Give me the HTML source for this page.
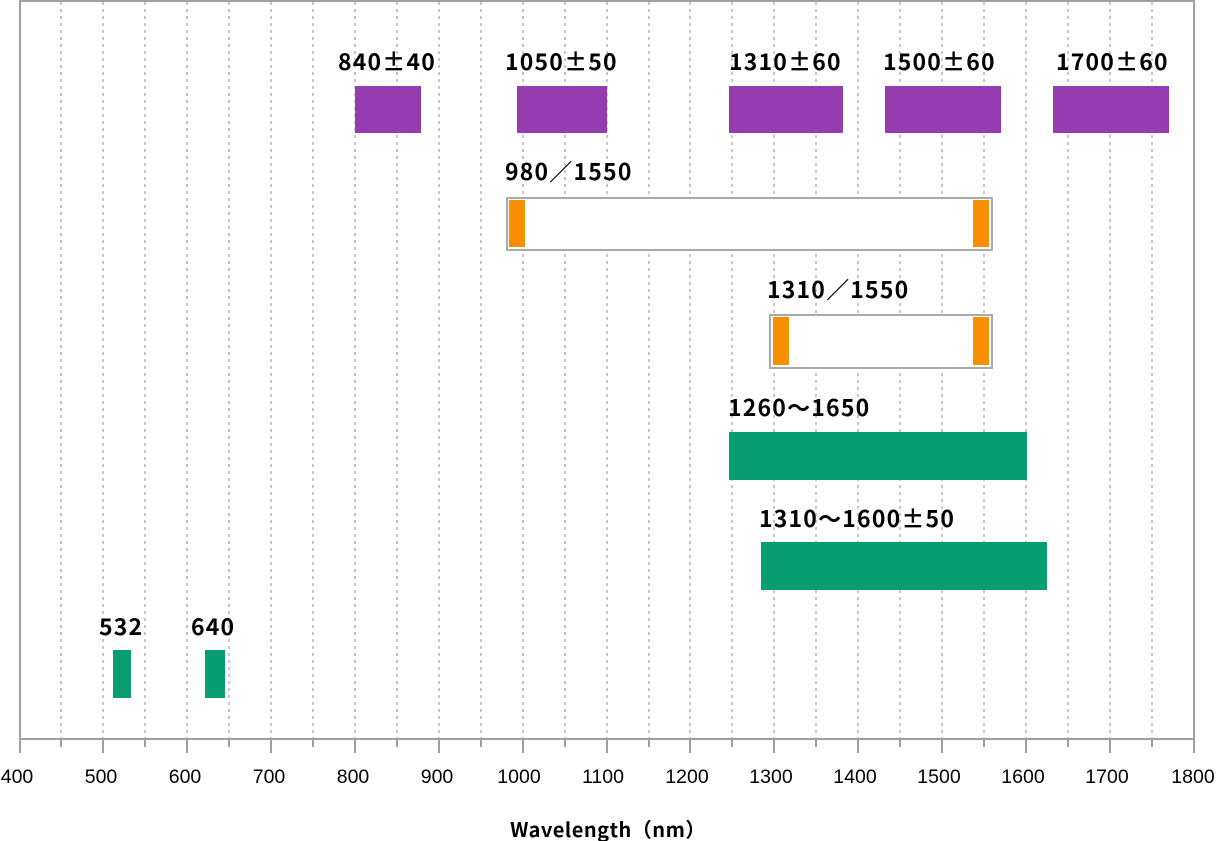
<!DOCTYPE html>
<html><head><meta charset="utf-8"><style>
html,body{margin:0;padding:0;background:#fff;}
svg{display:block;}
.l{font-family:"Noto Sans CJK JP",sans-serif;font-size:23px;font-weight:bold;fill:#000;letter-spacing:1.2px;}
.t{font-family:"Liberation Sans",sans-serif;font-size:19.5px;fill:#000;}
</style></head><body>
<svg width="1216" height="841" viewBox="0 0 1216 841">
<rect x="0" y="0" width="1216" height="841" fill="#fff"/>
<g stroke="#c8c8c8" stroke-width="2" stroke-dasharray="3,4">
<line x1="61" y1="2" x2="61" y2="739"/><line x1="103" y1="2" x2="103" y2="739"/><line x1="145" y1="2" x2="145" y2="739"/><line x1="187" y1="2" x2="187" y2="739"/><line x1="229" y1="2" x2="229" y2="739"/><line x1="271" y1="2" x2="271" y2="739"/><line x1="313" y1="2" x2="313" y2="739"/><line x1="355" y1="2" x2="355" y2="739"/><line x1="397" y1="2" x2="397" y2="739"/><line x1="439" y1="2" x2="439" y2="739"/><line x1="481" y1="2" x2="481" y2="739"/><line x1="523" y1="2" x2="523" y2="739"/><line x1="565" y1="2" x2="565" y2="739"/><line x1="607" y1="2" x2="607" y2="739"/><line x1="649" y1="2" x2="649" y2="739"/><line x1="690" y1="2" x2="690" y2="739"/><line x1="732" y1="2" x2="732" y2="739"/><line x1="774" y1="2" x2="774" y2="739"/><line x1="816" y1="2" x2="816" y2="739"/><line x1="858" y1="2" x2="858" y2="739"/><line x1="900" y1="2" x2="900" y2="739"/><line x1="942" y1="2" x2="942" y2="739"/><line x1="984" y1="2" x2="984" y2="739"/><line x1="1026" y1="2" x2="1026" y2="739"/><line x1="1068" y1="2" x2="1068" y2="739"/><line x1="1110" y1="2" x2="1110" y2="739"/><line x1="1152" y1="2" x2="1152" y2="739"/>
</g>
<g stroke="#a0a0a0" stroke-width="2" fill="none">
<polyline points="20,739 20,1 1194,1 1194,739"/>
<line x1="20" y1="739" x2="1194" y2="739"/>
</g>
<g stroke="#a0a0a0" stroke-width="2">
<line x1="20" y1="739" x2="20" y2="753"/><line x1="61" y1="739" x2="61" y2="747"/><line x1="103" y1="739" x2="103" y2="753"/><line x1="145" y1="739" x2="145" y2="747"/><line x1="187" y1="739" x2="187" y2="753"/><line x1="229" y1="739" x2="229" y2="747"/><line x1="271" y1="739" x2="271" y2="753"/><line x1="313" y1="739" x2="313" y2="747"/><line x1="355" y1="739" x2="355" y2="753"/><line x1="397" y1="739" x2="397" y2="747"/><line x1="439" y1="739" x2="439" y2="753"/><line x1="481" y1="739" x2="481" y2="747"/><line x1="523" y1="739" x2="523" y2="753"/><line x1="565" y1="739" x2="565" y2="747"/><line x1="607" y1="739" x2="607" y2="753"/><line x1="649" y1="739" x2="649" y2="747"/><line x1="690" y1="739" x2="690" y2="753"/><line x1="732" y1="739" x2="732" y2="747"/><line x1="774" y1="739" x2="774" y2="753"/><line x1="816" y1="739" x2="816" y2="747"/><line x1="858" y1="739" x2="858" y2="753"/><line x1="900" y1="739" x2="900" y2="747"/><line x1="942" y1="739" x2="942" y2="753"/><line x1="984" y1="739" x2="984" y2="747"/><line x1="1026" y1="739" x2="1026" y2="753"/><line x1="1068" y1="739" x2="1068" y2="747"/><line x1="1110" y1="739" x2="1110" y2="753"/><line x1="1152" y1="739" x2="1152" y2="747"/><line x1="1194" y1="739" x2="1194" y2="753"/>
</g>
<g text-anchor="middle">
<text x="17" y="783" class="t">400</text><text x="101" y="783" class="t">500</text><text x="185" y="783" class="t">600</text><text x="269" y="783" class="t">700</text><text x="353" y="783" class="t">800</text><text x="437" y="783" class="t">900</text><text x="519" y="783" class="t">1000</text><text x="603" y="783" class="t">1100</text><text x="687" y="783" class="t">1200</text><text x="771" y="783" class="t">1300</text><text x="855" y="783" class="t">1400</text><text x="939" y="783" class="t">1500</text><text x="1023" y="783" class="t">1600</text><text x="1107" y="783" class="t">1700</text><text x="1193" y="783" class="t">1800</text>
</g>
<text x="608" y="837" text-anchor="middle" class="l" style="font-size:20px;letter-spacing:0.5px">Wavelength（nm）</text>
<g fill="#953db0">
<rect x="355" y="86" width="66" height="47"/><rect x="517" y="86" width="90" height="47"/><rect x="729" y="86" width="114" height="47"/><rect x="885" y="86" width="116" height="47"/><rect x="1053" y="86" width="116" height="47"/>
</g>
<rect x="507" y="198" width="485" height="52" fill="#fff" stroke="#aaa" stroke-width="2"/>
<rect x="770" y="315" width="222" height="53" fill="#fff" stroke="#aaa" stroke-width="2"/>
<g fill="#f78f00">
<rect x="509" y="200" width="16" height="47"/><rect x="973" y="200" width="16" height="47"/>
<rect x="773" y="317" width="16" height="48"/><rect x="973" y="317" width="16" height="48"/>
</g>
<g fill="#099e71">
<rect x="729" y="432" width="298" height="48"/><rect x="761" y="542" width="286" height="48"/>
<rect x="113" y="650" width="18" height="48"/><rect x="205" y="650" width="20" height="48"/>
</g>
<g class="l">
<text x="338" y="70">840±40</text><text x="505" y="70">1050±50</text><text x="729" y="70">1310±60</text><text x="883" y="70">1500±60</text><text x="1056" y="70">1700±60</text>
<text x="505" y="180">980／1550</text><text x="767" y="298">1310／1550</text>
<text x="728" y="416">1260～1650</text><text x="759" y="527">1310～1600±50</text>
<text x="99" y="635">532</text><text x="191" y="635">640</text>
</g>
</svg>
</body></html>
